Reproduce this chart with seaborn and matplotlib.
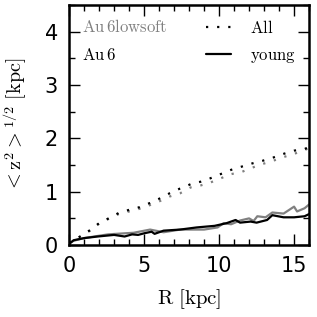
import matplotlib
matplotlib.use("Agg")
import matplotlib.pyplot as plt
from matplotlib.lines import Line2D
import seaborn as sns
import pandas as pd

# ---- data ----
R_all_au6 = [0.0, 0.4, 1.4, 2.0, 2.7, 3.3, 4.0, 4.7, 5.4, 6.1, 6.7, 7.4, 8.1, 8.8, 9.4, 10.1, 10.8, 11.5, 12.2, 12.9, 13.6, 14.3, 15.0, 15.7, 16.0]
z_all_au6 = [0.04, 0.10, 0.28, 0.41, 0.51, 0.60, 0.66, 0.71, 0.79, 0.88, 0.97, 1.06, 1.14, 1.19, 1.25, 1.33, 1.41, 1.47, 1.53, 1.58, 1.64, 1.71, 1.77, 1.80, 1.84]

R_all_low = [0.0, 0.4, 1.4, 2.0, 2.7, 3.3, 4.0, 4.7, 5.4, 6.1, 6.7, 7.4, 8.1, 8.8, 9.4, 10.1, 10.8, 11.5, 12.2, 12.9, 13.6, 14.3, 15.0, 15.7, 16.0]
z_all_low = [0.04, 0.10, 0.27, 0.40, 0.50, 0.58, 0.63, 0.68, 0.75, 0.83, 0.91, 0.97, 1.08, 1.12, 1.17, 1.25, 1.33, 1.37, 1.45, 1.52, 1.58, 1.65, 1.71, 1.78, 1.82]

R_young_au6 = [0.0, 0.3, 1.0, 1.9, 3.0, 3.7, 4.2, 4.6, 5.0, 5.5, 5.7, 6.3, 7.4, 8.5, 9.7, 10.5, 11.1, 11.4, 12.1, 12.5, 13.2, 13.55, 14.3, 15.0, 15.7, 16.0]
z_young_au6 = [0.02, 0.09, 0.13, 0.16, 0.19, 0.16, 0.20, 0.19, 0.22, 0.25, 0.21, 0.27, 0.29, 0.33, 0.36, 0.41, 0.47, 0.42, 0.44, 0.42, 0.47, 0.56, 0.52, 0.52, 0.54, 0.58]

R_young_low = [0.0, 0.3, 1.0, 1.9, 2.6, 3.7, 4.3, 5.4, 6.3, 7.4, 9.0, 9.9, 10.3, 10.8, 11.4, 12.0, 12.3, 12.55, 13.1, 13.55, 14.3, 15.0, 15.2, 15.7, 16.0]
z_young_low = [0.03, 0.08, 0.13, 0.17, 0.20, 0.22, 0.23, 0.29, 0.24, 0.29, 0.29, 0.33, 0.41, 0.39, 0.46, 0.50, 0.45, 0.54, 0.52, 0.61, 0.59, 0.72, 0.63, 0.69, 0.76]

models = ["Au 6lowsoft", "Au 6"]
components = ["All", "young"]
x_ticks = [0, 5, 10, 15]
y_ticks = [0, 1, 2, 3, 4]

frames = []
for R, z, m, c in [
    (R_all_low, z_all_low, "Au 6lowsoft", "All"),
    (R_young_low, z_young_low, "Au 6lowsoft", "young"),
    (R_all_au6, z_all_au6, "Au 6", "All"),
    (R_young_au6, z_young_au6, "Au 6", "young"),
]:
    frames.append(pd.DataFrame({"R": R, "z": z, "model": m, "comp": c,
                                "series": m + "|" + c}))
df = pd.concat(frames, ignore_index=True)

# ---- style ----
sns.set_style("ticks")
plt.rcParams["font.family"] = ["DejaVu Sans"]
plt.rcParams["mathtext.fontset"] = "cm"
plt.rcParams["text.color"] = "black"
plt.rcParams["axes.labelcolor"] = "black"

fig = plt.figure(figsize=(3.17, 3.17), dpi=100)
ax = fig.add_axes([0.218, 0.227, 0.757, 0.757])

palette = {"Au 6lowsoft": "#808080", "Au 6": "black"}
dashes = {"All": (1, 4), "young": ""}
sns.lineplot(data=df, x="R", y="z", hue="model", style="comp",
             units="series", estimator=None, sort=False,
             palette=palette, dashes=dashes, hue_order=models,
             style_order=components, linewidth=1.6, legend=False, ax=ax)

ax.set_xlim(0, 16)
ax.set_ylim(0, 4.5)
ax.set_xticks(x_ticks)
ax.set_yticks(y_ticks)
ax.set_xticks([i for i in range(0, 17)], minor=True)
ax.set_yticks([i * 0.5 for i in range(0, 10)], minor=True)
ax.tick_params(which="both", direction="in", top=True, right=True,
               labelsize=15, width=1, color="black", labelcolor="black")
ax.tick_params(which="major", length=8, pad=8)
ax.tick_params(which="minor", length=4)
for s in ax.spines.values():
    s.set_linewidth(1.8)
    s.set_color("black")
    s.set_visible(True)

ax.set_xlabel(r"$\mathrm{R\ [kpc]}$", fontsize=15, labelpad=8, color="black")
ax.set_ylabel(r"$<\mathrm{z}^2>^{1/2}\ [\mathrm{kpc}]$", fontsize=14.5,
              labelpad=11, color="black")

# model legend (text only)
h_models = [Line2D([], [], color="none") for _ in models]
leg1 = ax.legend(h_models, [r"$\mathrm{%s}$" % m.replace(" ", r"\,") for m in models],
                 loc="upper left", bbox_to_anchor=(0.026, 0.972),
                 handlelength=0, handletextpad=0,
                 frameon=False, fontsize=12, borderaxespad=0.0,
                 labelspacing=0.55)
for t, m in zip(leg1.get_texts(), models):
    t.set_color(palette[m])
ax.add_artist(leg1)

# component legend
h_comp = [Line2D([], [], color="black", lw=1.6, dashes=(1, 4)),
          Line2D([], [], color="black", lw=1.6)]
ax.legend(h_comp, [r"$\mathrm{All}$", r"$\mathrm{young}$"], loc="upper right",
          frameon=False, fontsize=12, handlelength=1.5, handletextpad=1.1,
          borderaxespad=0.41, labelspacing=0.55)

fig.savefig("out.png", dpi=100)
